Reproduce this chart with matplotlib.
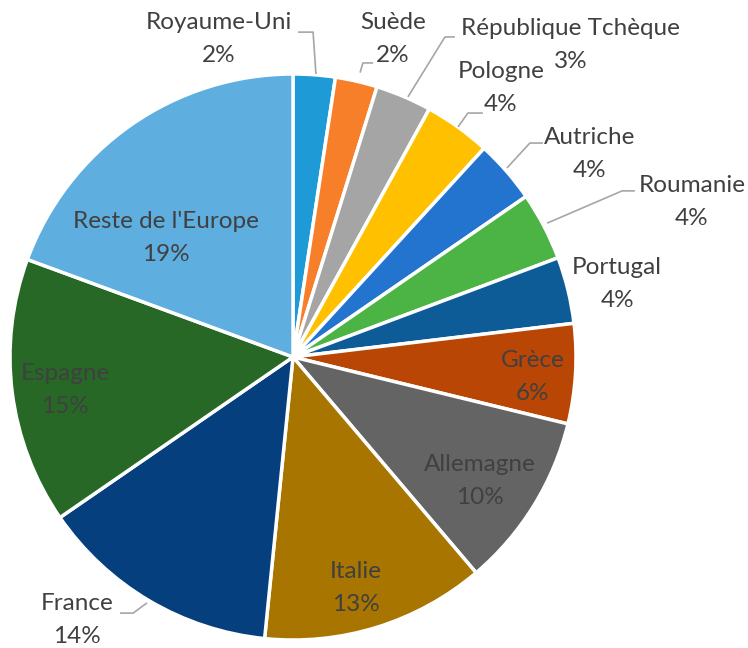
import matplotlib.pyplot as plt
import numpy as np

# part of each country, in percent
countries = ["Royaume-Uni", "Suède", "République Tchèque", "Pologne", "Autriche",
             "Roumanie", "Portugal", "Grèce", "Allemagne", "Italie", "France",
             "Espagne", "Reste de l'Europe"]
shares = [2.4, 2.4, 3.2, 3.8, 3.6, 3.9, 3.8, 5.7, 10.0, 12.8, 13.8, 15.2, 19.4]
colors = ["#1E9AD6", "#F77F2A", "#A5A5A5", "#FFC000", "#2274CF", "#4BB445",
          "#0E5C97", "#BA4605", "#646464", "#A87600", "#053F7D", "#276827",
          "#5EAEE0"]

# label centres, pie radius = 1
label_xy = {
    "Royaume-Uni": (-0.261, 1.125),
    "Suède": (0.353, 1.125),
    "République Tchèque": (0.982, 1.102),
    "Pologne": (0.735, 0.949),
    "Autriche": (1.049, 0.719),
    "Roumanie": (1.41, 0.549),
    "Portugal": (1.145, 0.258),
    "Grèce": (0.848, -0.072),
    "Allemagne": (0.661, -0.438),
    "Italie": (0.223, -0.818),
    "France": (-0.763, -0.93),
    "Espagne": (-0.806, -0.118),
    "Reste de l'Europe": (-0.449, 0.422),
}
# leader lines: point on the slice, elbow, end near the text
leaders = {
    "Royaume-Uni": [(0.081, 1.0), (0.071, 1.148), (0.018, 1.148)],
    "Suède": [(0.237, 1.005), (0.247, 1.039), (0.283, 1.039)],
    "République Tchèque": [(0.406, 0.919), (0.537, 1.131), (0.572, 1.131)],
    "Pologne": [(0.583, 0.813), (0.618, 0.862), (0.671, 0.862)],
    "Autriche": [(0.756, 0.668), (0.837, 0.756), (0.883, 0.756)],
    "Roumanie": [(0.898, 0.473), (1.163, 0.587), (1.208, 0.587)],
    "France": [(-0.516, -0.869), (-0.565, -0.905), (-0.611, -0.905)],
}

plt.rcParams["font.family"] = ["Lato", "DejaVu Sans"]

fig = plt.figure(figsize=(7.48, 6.48), dpi=100)
ax = fig.add_axes([0, 0, 1, 1])

total = sum(shares)
wedges, _ = ax.pie(shares, colors=colors, startangle=90, counterclock=False,
                   radius=1.0, center=(0, 0),
                   wedgeprops=dict(edgecolor="white", linewidth=2.5))

# name above, percentage below (half a line = 16.5 px)
half = 16.5 / 283
for name, v in zip(countries, shares):
    x, y = label_xy[name]
    ax.text(x, y + half, name, ha="center", va="center",
            fontsize=17.5, color="#404040")
    ax.text(x, y - half, f"{v / total * 100:.0f}%", ha="center", va="center",
            fontsize=17.5, color="#404040")

for name, pts in leaders.items():
    pts = np.array(pts)
    ax.plot(pts[:, 0], pts[:, 1], color="#A6A6A6", lw=1.2, solid_capstyle="butt")

# centre at (293, 357) px, radius 283 px
r = 283.0
ax.set_xlim(-293 / r, (748 - 293) / r)
ax.set_ylim(-(648 - 357) / r, 357 / r)
ax.set_aspect("auto")
ax.axis("off")

fig.savefig("out.png", dpi=100, facecolor="white")
